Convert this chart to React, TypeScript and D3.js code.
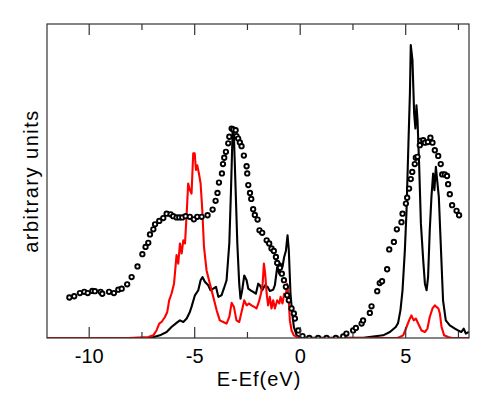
import React from "react";
import * as d3 from "d3";

// Dotted series (total DOS, circles): [E-Ef (eV), value]
const dotsSeries: [number, number][] = [
  [-10.94, 12.9], [-10.71, 13.3], [-10.44, 14.3], [-10.23, 14.7], [-10.07, 14.3], [-9.85, 15.0],
  [-9.73, 14.9], [-9.46, 14.7], [-9.38, 14.1], [-9.06, 14.7], [-8.83, 14.3], [-8.62, 15.4],
  [-8.46, 15.7], [-8.2, 17.1], [-7.99, 19.4], [-7.71, 22.8], [-7.48, 26.7], [-7.33, 29.0],
  [-7.2, 30.3], [-7.12, 33.0], [-6.96, 34.6], [-6.88, 36.2], [-6.68, 37.3], [-6.49, 38.2],
  [-6.33, 39.6], [-6.14, 39.4], [-6.02, 38.8], [-5.86, 38.4], [-5.73, 38.4], [-5.59, 38.4],
  [-5.43, 38.8], [-5.23, 38.6], [-5.04, 37.8], [-4.88, 38.6], [-4.67, 38.6], [-4.39, 39.1],
  [-4.15, 40.9], [-4.01, 43.7], [-3.92, 46.2], [-3.85, 49.5], [-3.71, 52.4], [-3.66, 55.4],
  [-3.6, 57.4], [-3.52, 59.3], [-3.41, 62.0], [-3.36, 64.1], [-3.25, 66.7], [-3.17, 66.4],
  [-3.06, 66.2], [-3.02, 64.3], [-2.94, 63.5], [-2.86, 62.3], [-2.78, 61.1], [-2.67, 58.1],
  [-2.54, 54.7], [-2.51, 52.4], [-2.46, 48.7], [-2.38, 46.2], [-2.32, 44.3], [-2.23, 41.0],
  [-2.15, 39.2], [-2.02, 37.7], [-1.93, 34.3], [-1.8, 33.5], [-1.59, 31.1], [-1.47, 30.1],
  [-1.36, 28.5], [-1.25, 27.7], [-1.15, 25.8], [-1.09, 23.9], [-0.96, 22.4], [-0.87, 20.5],
  [-0.77, 18.4], [-0.68, 16.3], [-0.62, 13.6], [-0.54, 12.0], [-0.41, 9.4], [-0.3, 7.8],
  [-0.25, 6.2], [-0.09, 2.4], [0.11, 0.6], [0.43, 0], [0.85, 0], [1.25, 0], [1.69, 0],
  [2.04, 0.5], [2.19, 1.4], [2.51, 2.4], [2.64, 3.2], [2.91, 4.6], [2.98, 5.6], [3.3, 8.0],
  [3.38, 10.1], [3.65, 14.9], [3.77, 17.5], [3.88, 18.1], [4.12, 21.9], [4.22, 28.2],
  [4.44, 30.6], [4.58, 34.6], [4.8, 36.9], [4.85, 39.6], [5.01, 42.8], [5.07, 44.7],
  [5.16, 47.6], [5.24, 50.6], [5.31, 52.9], [5.43, 55.4], [5.48, 57.4], [5.56, 57.7],
  [5.67, 61.4], [5.7, 62.8], [5.83, 63.0], [5.91, 62.2], [6.05, 62.4], [6.17, 63.8],
  [6.27, 62.2], [6.38, 59.8], [6.54, 58.0], [6.66, 55.4], [6.73, 52.1], [6.85, 52.1],
  [6.96, 51.6], [7.01, 49.0], [7.09, 45.8], [7.2, 42.3], [7.41, 40.5], [7.53, 39.1],
];

// Black line series
const blackSeries: [number, number][] = [
  [-8.1, 0], [-7.1, 0], [-6.65, 0.85], [-6.33, 1.9], [-6.1, 3.5], [-5.86, 4.8], [-5.7, 5.6],
  [-5.54, 5.1], [-5.38, 6.2], [-5.23, 8.3], [-5.15, 9.9], [-4.99, 13.6], [-4.83, 15.2],
  [-4.72, 18.4], [-4.63, 19.4], [-4.52, 17.9], [-4.36, 16.8], [-4.25, 15.2], [-4.12, 15.7],
  [-3.99, 16.3], [-3.88, 13.1], [-3.73, 13.6], [-3.62, 15.7], [-3.49, 18.4], [-3.36, 30.1],
  [-3.28, 47.1], [-3.2, 66.7], [-3.14, 64.1], [-3.08, 51.4], [-2.98, 30.1], [-2.89, 17.3],
  [-2.83, 12.5], [-2.75, 15.2], [-2.65, 19.9], [-2.54, 18.4], [-2.46, 15.7], [-2.35, 15.2],
  [-2.23, 14.7], [-2.1, 14.1], [-1.99, 17.3], [-1.91, 16.8], [-1.8, 15.2], [-1.67, 16.8],
  [-1.55, 16.3], [-1.44, 15.0], [-1.28, 15.4], [-1.2, 16.8], [-1.09, 22.6], [-0.99, 20.5],
  [-0.93, 23.7], [-0.84, 22.6], [-0.76, 25.8], [-0.68, 27.7], [-0.6, 32.7], [-0.54, 28.0],
  [-0.46, 14.1], [-0.39, 8.8], [-0.3, 3.5], [-0.17, 0.85], [0.06, 0.1], [3.0, 0.1],
  [3.46, 0.5], [3.93, 0.85], [4.25, 1.9], [4.53, 3.5], [4.64, 4.8], [4.75, 8.8], [4.85, 15.2],
  [4.96, 27.9], [5.04, 40.7], [5.13, 62.0], [5.2, 77.9], [5.24, 93.3], [5.32, 88.5],
  [5.4, 71.5], [5.46, 66.7], [5.51, 74.1], [5.56, 69.4], [5.64, 54.5], [5.72, 36.5],
  [5.83, 24.8], [5.91, 17.3], [5.99, 15.2], [6.06, 19.4], [6.14, 34.3], [6.22, 44.9],
  [6.3, 52.4], [6.36, 47.1], [6.43, 54.5], [6.49, 50.3], [6.57, 44.9], [6.66, 30.1],
  [6.77, 12.0], [6.9, 5.6], [7.09, 4.0], [7.33, 3.0], [7.48, 2.4], [7.64, 1.9], [7.75, 3.0],
  [7.85, 1.4], [7.99, 1.9],
];

// Red line series
const redSeries: [number, number][] = [
  [-12, 0], [-8.15, 0], [-7.2, 0.3], [-6.96, 0.85], [-6.81, 2.4], [-6.68, 4.6], [-6.57, 5.1],
  [-6.41, 6.7], [-6.3, 8.3], [-6.21, 12.0], [-6.1, 14.1], [-5.98, 17.3], [-5.86, 26.4],
  [-5.78, 23.7], [-5.7, 30.1], [-5.62, 26.9], [-5.54, 31.1], [-5.46, 30.1], [-5.38, 39.6],
  [-5.31, 49.2], [-5.23, 47.1], [-5.15, 46.0], [-5.07, 58.8], [-5.0, 58.8], [-4.94, 53.5],
  [-4.88, 55.0], [-4.8, 52.4], [-4.72, 49.2], [-4.64, 40.7], [-4.56, 29.0], [-4.44, 21.6],
  [-4.28, 17.3], [-4.12, 13.1], [-3.96, 8.8], [-3.81, 5.6], [-3.65, 5.1], [-3.49, 4.6],
  [-3.36, 6.7], [-3.25, 11.2], [-3.14, 9.9], [-3.02, 5.6], [-2.89, 5.1], [-2.78, 8.3],
  [-2.65, 12.0], [-2.54, 10.4], [-2.42, 11.0], [-2.31, 10.4], [-2.18, 9.9], [-2.07, 9.4],
  [-1.96, 11.5], [-1.86, 14.1], [-1.78, 17.3], [-1.72, 23.7], [-1.66, 20.5], [-1.59, 14.1],
  [-1.52, 10.4], [-1.44, 13.1], [-1.36, 9.4], [-1.28, 12.0], [-1.2, 9.4], [-1.09, 12.0],
  [-0.99, 11.0], [-0.93, 13.1], [-0.84, 11.0], [-0.76, 14.1], [-0.68, 13.6], [-0.62, 17.3],
  [-0.55, 13.1], [-0.49, 5.6], [-0.41, 2.4], [-0.3, 0.85], [-0.09, 0.1], [0.2, 0], [4.6, 0],
  [4.72, 0.3], [4.88, 0.85], [5.04, 3.5], [5.16, 5.6], [5.27, 7.2], [5.38, 5.6], [5.48, 6.2],
  [5.59, 4.6], [5.75, 2.4], [5.91, 1.9], [6.03, 3.0], [6.14, 6.7], [6.27, 9.4], [6.38, 10.4],
  [6.46, 9.9], [6.55, 9.4], [6.62, 7.8], [6.7, 3.5], [6.82, 0.85], [7.01, 0.3], [7.2, 0], [8, 0],
];

const majorTicks = [-10, -5, 0, 5];
const minorTicks = [-7.5, -2.5, 2.5, 7.5];
const xLabel = "E-Ef(eV)";
const yLabel = "arbitrary units";

export default function App() {
  const W = 491, H = 398;
  const left = 47, right = 469, top = 24, bottom = 338;
  const x = d3.scaleLinear().domain([-12, 8]).range([left, right]);
  const y = d3.scaleLinear().domain([0, 100]).range([bottom, top]);
  const line = d3.line<[number, number]>().x(d => x(d[0])).y(d => y(d[1]));
  const font = "'Liberation Sans', Arial, sans-serif";

  return (
    <svg width={W} height={H} style={{ position: "absolute", left: 0, top: 0, background: "#fff" }}>
      <defs>
        <clipPath id="plotclip">
          <rect x={left} y={top - 2} width={right - left} height={bottom - top + 2} />
        </clipPath>
      </defs>
      <g clipPath="url(#plotclip)">
        <path d={line(blackSeries) || ""} fill="none" stroke="#000" strokeWidth={2.1} strokeLinejoin="round" />
        <path d={line(redSeries) || ""} fill="none" stroke="#ff0000" strokeWidth={2.1} strokeLinejoin="round" />
        {dotsSeries.map((d, i) => (
          <circle key={i} cx={x(d[0])} cy={y(d[1])} r={2.2} fill="#fff" stroke="#000" strokeWidth={1.9} />
        ))}
      </g>
      <rect x={left} y={top} width={right - left} height={bottom - top} fill="none" stroke="#333" strokeWidth={1.2} />
      {majorTicks.map(t => (
        <g key={"M" + t}>
          <line x1={x(t)} x2={x(t)} y1={bottom} y2={bottom - 11} stroke="#333" strokeWidth={1.2} />
          <line x1={x(t)} x2={x(t)} y1={top} y2={top + 11} stroke="#333" strokeWidth={1.2} />
          <text x={x(t)} y={363} textAnchor="middle" fontFamily={font} fontSize={20} fill="#000">{t}</text>
        </g>
      ))}
      {minorTicks.map(t => (
        <g key={"m" + t}>
          <line x1={x(t)} x2={x(t)} y1={bottom} y2={bottom - 6} stroke="#333" strokeWidth={1.2} />
          <line x1={x(t)} x2={x(t)} y1={top} y2={top + 6} stroke="#333" strokeWidth={1.2} />
        </g>
      ))}
      <text x={259} y={386} textAnchor="middle" fontFamily={font} fontSize={20} letterSpacing={1} fill="#000">{xLabel}</text>
      <text transform={`translate(38,${(top + bottom) / 2}) rotate(-90)`} textAnchor="middle" fontFamily={font} fontSize={20} letterSpacing={1.5} fill="#000">{yLabel}</text>
    </svg>
  );
}
